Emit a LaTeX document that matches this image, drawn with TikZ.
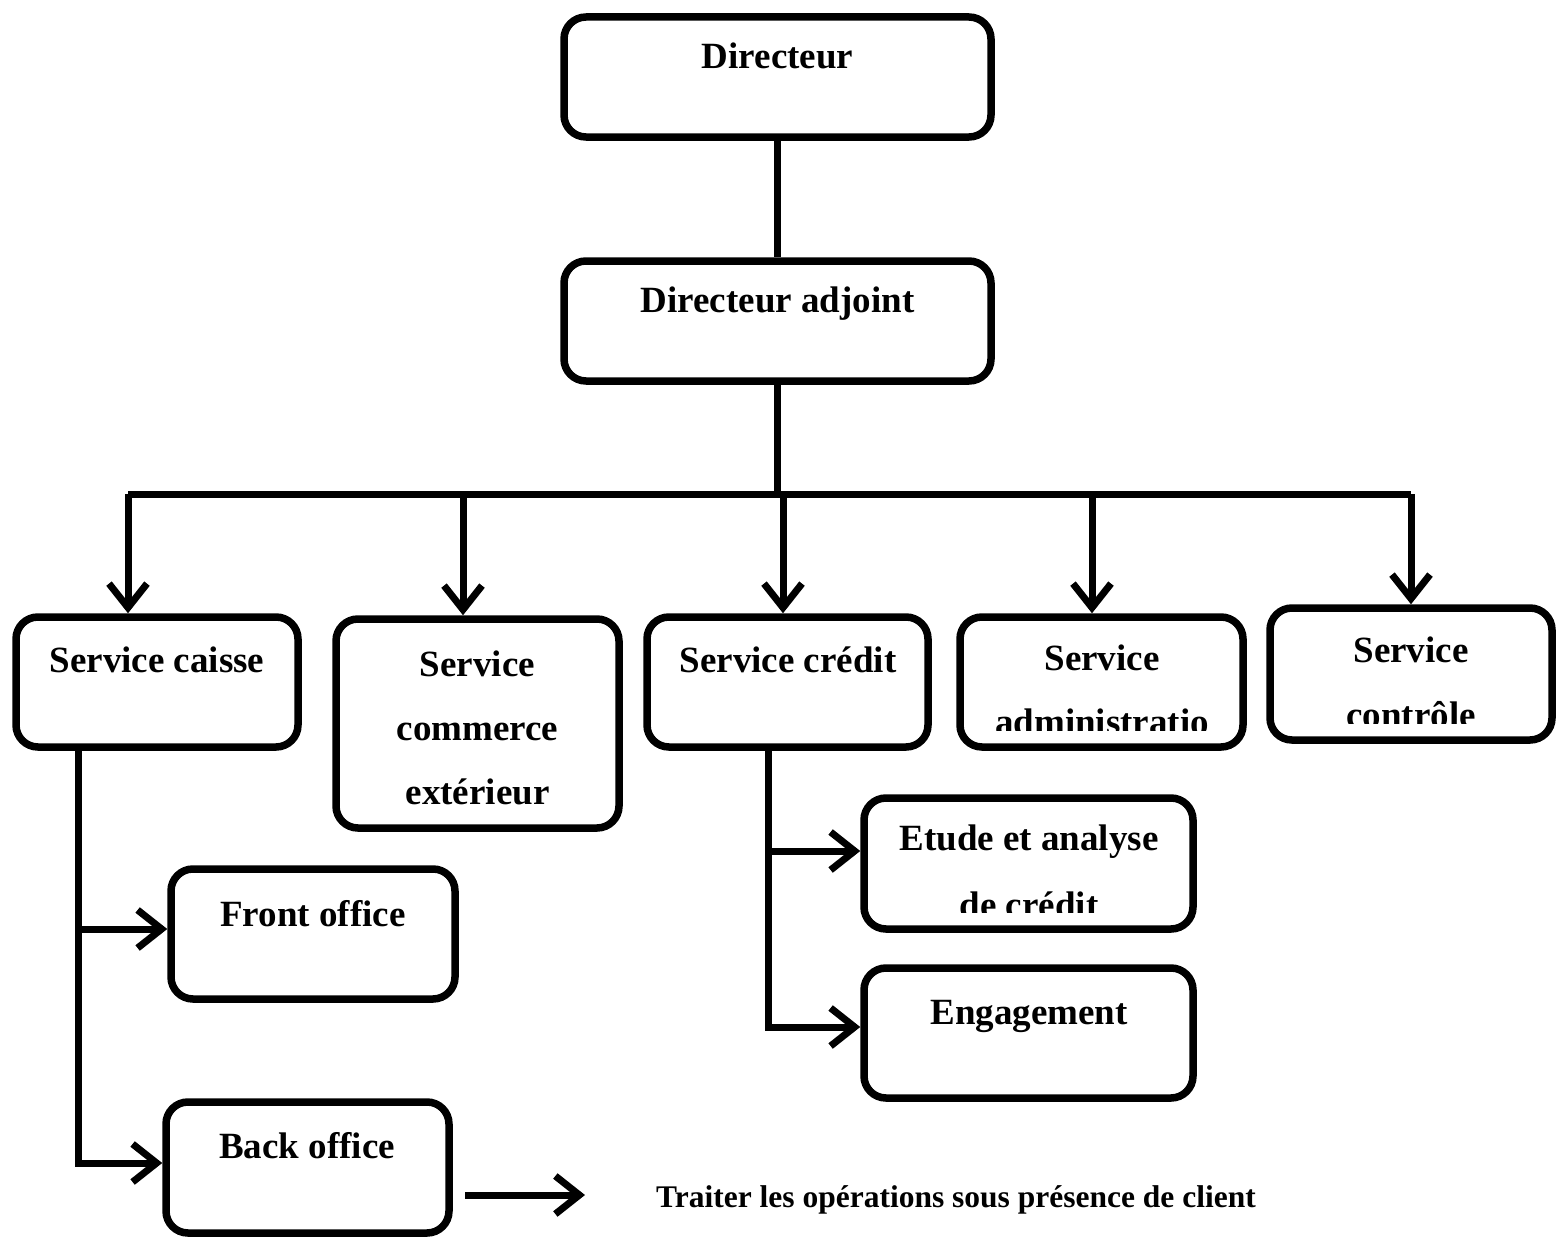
\documentclass[tikz,border=0pt]{standalone}
\usepackage{fontspec}
\setmainfont{Liberation Serif}
\usetikzlibrary{arrows.meta}
\tikzset{
  box/.style={draw, line width=7.5pt, rounded corners=22pt, inner sep=0pt},
  conn/.style={line width=7pt},
  arr/.style={conn, -{Straight Barb[length=24pt,width=38pt]}},
  txt/.style={anchor=base, inner sep=0pt, font=\fontsize{37}{44}\selectfont\bfseries},
  stxt/.style={anchor=base, inner sep=0pt, font=\fontsize{31.5}{36}\selectfont\bfseries}
}
\begin{document}
\begin{tikzpicture}[x=1pt,y=-1pt]
\useasboundingbox (0,0) rectangle (1558,1239);
% boxes
\node[box, minimum width=427pt, minimum height=120pt] (dir) at (777.5,77) {};
\node[box, minimum width=427pt, minimum height=120pt] (adj) at (777.5,321) {};
\node[box, minimum width=282pt, minimum height=130pt] (caisse) at (157,682) {};
\node[box, minimum width=283pt, minimum height=209pt] (commerce) at (477.5,723.5) {};
\node[box, minimum width=281pt, minimum height=130pt] (credit) at (787.5,682) {};
\node[box, minimum width=283pt, minimum height=130pt] (admin) at (1101.5,682) {};
\node[box, minimum width=282pt, minimum height=132pt] (controle) at (1411,674) {};
\node[box, minimum width=329pt, minimum height=131pt] (etude) at (1028.5,863.5) {};
\node[box, minimum width=329pt, minimum height=130pt] (engage) at (1028.5,1033) {};
\node[box, minimum width=284pt, minimum height=130pt] (front) at (313,934) {};
\node[box, minimum width=283pt, minimum height=131pt] (back) at (307.5,1167.5) {};
% texts
\node[txt] (tdir) at (777.5,68) {Directeur};
\node[txt] (tadj) at (777.5,312) {Directeur adjoint};
\node[txt] (tcaisse) at (157,672) {Service caisse};
\node[txt] (tcom1) at (477.5,676) {Service};
\node[txt] (tcom2) at (477.5,740) {commerce};
\node[txt] (tcom3) at (477.5,804) {extérieur};
\node[txt] (tcredit) at (788,672) {Service crédit};
\node[txt] (tadm1) at (1102,670) {Service};
\begin{scope}
\clip (960,690) rectangle (1243,730);
\node[txt] (tadm2) at (1102,734) {administratio};
\end{scope}
\node[txt] (tctl1) at (1411,662) {Service};
\begin{scope}
\clip (1270,680) rectangle (1552,723);
\node[txt] (tctl2) at (1411,727) {contrôle};
\end{scope}
\node[txt] (tet1) at (1029,850) {Etude et analyse};
\begin{scope}
\clip (864,870) rectangle (1193,912);
\node[txt] (tet2) at (1029,917) {de crédit};
\end{scope}
\node[txt] (teng) at (1029,1024) {Engagement};
\node[txt] (tfront) at (313,926) {Front office};
\node[txt] (tback) at (307,1158) {Back office};
\node[stxt] (traiter) at (956,1207) {Traiter les opérations sous présence de client};
% connectors
\draw[conn] (dir.south) -- (adj.north);
\coordinate (b1) at (128,494);
\coordinate (b2) at (463,494);
\coordinate (b3) at (783,494);
\coordinate (b4) at (1092,494);
\coordinate (b5) at (1411,494);
\draw[conn] (adj.south) -- (adj.south |- b1);
\draw[conn] (b1) -- (b5);
\draw[arr] (b1) -- (b1 |- caisse.north);
\draw[arr] (b2) -- (b2 |- commerce.north);
\draw[arr] (b3) -- (b3 |- credit.north);
\draw[arr] (b4) -- (b4 |- admin.north);
\draw[arr] (b5) -- (b5 |- controle.north);
% service caisse branch
\coordinate (ca) at (78,750);
\coordinate (cb) at (78,929);
\coordinate (cc) at (78,1163);
\draw[arr] (ca) -- (cc) -- (cc -| back.west);
\draw[arr] (cb) -- (cb -| front.west);
% service credit branch
\coordinate (ka) at (768,750);
\coordinate (kb) at (768,851);
\coordinate (kc) at (768,1027);
\draw[arr] (ka) -- (kc) -- (kc -| engage.west);
\draw[arr] (kb) -- (kb -| etude.west);
% back office note
\coordinate (t1) at (465,1195);
\coordinate (t2) at (585,1195);
\draw[arr] (t1) -- (t2);
\end{tikzpicture}
\end{document}
